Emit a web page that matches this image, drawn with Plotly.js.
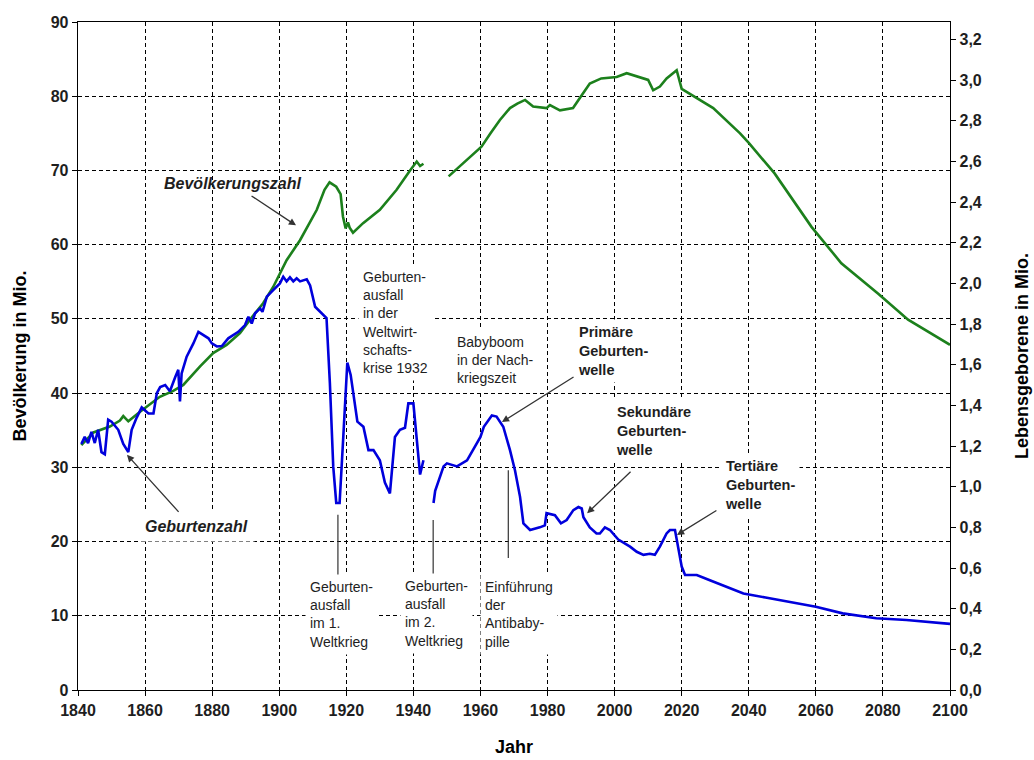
<!DOCTYPE html>
<html>
<head>
<meta charset="utf-8">
<script src="https://cdn.plot.ly/plotly-3.0.1.min.js"></script>
<style>
  html, body { margin: 0; padding: 0; background: #fff; }
  #chart { width: 1034px; height: 760px; }
</style>
</head>
<body>
<div id="chart"></div>
<script>
// ---- Data ----
// Bevölkerungszahl (population, millions, left axis); null = gap 1944-1949
const popYears = [1841, 1844.6, 1849.5, 1852.5, 1853.5, 1855, 1858.5, 1864.4, 1868.4, 1871.4,
  1876.4, 1880.3, 1884.3, 1888.3, 1891.3, 1895.2, 1898.2, 1902.2, 1906.2, 1911.2,
  1913.5, 1915, 1917, 1918.3, 1919, 1919.8, 1920.5, 1921, 1922, 1925,
  1930, 1935, 1939, 1941, 1942, 1943, 1946,
  1950.5, 1955, 1960.3, 1963, 1965.8, 1968.8, 1971, 1973.3, 1975.7, 1979.7,
  1980.7, 1983.7, 1987.6, 1990.6, 1992.6, 1996, 2000.6, 2003.6, 2007.6, 2010,
  2011.5, 2013.5, 2015.5, 2018.5, 2020, 2021.5, 2029.4, 2037.4, 2040, 2047.7,
  2058.7, 2067.6, 2078.6, 2087.5, 2100];
const popValues = [33.0, 34.7, 35.5, 36.3, 36.9, 36.2, 37.5, 39.5, 40.3, 41.1,
  43.6, 45.4, 46.5, 48.1, 49.9, 52.1, 54.3, 57.9, 60.6, 64.7,
  67.4, 68.4, 67.8, 66.8, 63.8, 62.2, 63.0, 62.3, 61.6, 62.9,
  64.7, 67.4, 70.0, 71.2, 70.6, 70.9, null,
  69.2, 71.0, 73.2, 75.0, 76.8, 78.4, 79.0, 79.5, 78.6, 78.4,
  78.8, 78.1, 78.4, 80.4, 81.7, 82.4, 82.6, 83.1, 82.6, 82.2,
  80.8, 81.3, 82.4, 83.5, 81.0, 80.6, 78.4, 75.0, 73.7, 69.6,
  62.4, 57.5, 53.4, 49.9, 46.5];

// Geburtenzahl (live births, millions, right axis); null = gap 1944-1945
const birthYears = [1841, 1842, 1843, 1844, 1845, 1846, 1847, 1848, 1849, 1850,
  1852, 1853.5, 1855, 1856, 1857.5, 1859, 1861, 1862.5, 1863.5, 1864.5,
  1866, 1867.4, 1869, 1869.9, 1870.4, 1870.9, 1872.4, 1874.4, 1875.9, 1877.4,
  1878.9, 1879.9, 1881.4, 1882.9, 1884.8, 1887.8, 1889.8, 1890.8, 1891.8, 1892.8,
  1894.3, 1895, 1896.3, 1898.2, 1900.2, 1901.2, 1902.2, 1903.2, 1904.2, 1905.2,
  1906.2, 1908.2, 1909.2, 1910.7, 1913.1, 1914.1, 1915.1, 1916.1, 1917, 1918,
  1919.1, 1920.3, 1921.3, 1923.3, 1925.1, 1926.6, 1928.1, 1930, 1931.5, 1933,
  1934.5, 1936, 1937.5, 1938.5, 1940, 1941, 1942, 1943, 1944.5,
  1946, 1946.5, 1949, 1950, 1953, 1956, 1960, 1961, 1963.4, 1964.8,
  1966.8, 1968.8, 1970.3, 1971.8, 1972.8, 1974.8, 1977.7, 1979.2, 1979.7, 1982.2,
  1984, 1985.7, 1987.7, 1989.2, 1990.2, 1990.7, 1992.6, 1994.6, 1995.6, 1997.1,
  1998.6, 2001.1, 2004.6, 2006.6, 2008.6, 2010.5, 2012, 2013.5, 2015.5, 2016.5,
  2018, 2019, 2020, 2021, 2024.5, 2028.4, 2033.4, 2038.4, 2045, 2050,
  2060, 2068, 2078, 2087, 2100];
const birthValues = [1.21, 1.245, 1.215, 1.27, 1.215, 1.28, 1.17, 1.16, 1.33, 1.32,
  1.28, 1.21, 1.17, 1.28, 1.34, 1.39, 1.36, 1.36, 1.46, 1.49,
  1.50, 1.47, 1.54, 1.575, 1.42, 1.557, 1.64, 1.705, 1.762, 1.746,
  1.73, 1.705, 1.69, 1.692, 1.73, 1.762, 1.795, 1.836, 1.803, 1.853,
  1.877, 1.86, 1.935, 1.967, 2.0, 2.033, 2.01, 2.03, 2.01, 2.025,
  2.01, 2.02, 1.99, 1.885, 1.845, 1.83, 1.51, 1.10, 0.92, 0.92,
  1.245, 1.61, 1.55, 1.32, 1.295, 1.18, 1.18, 1.13, 1.02, 0.967,
  1.245, 1.28, 1.29, 1.41, 1.41, 1.245, 1.06, 1.13, null,
  0.92, 0.98, 1.10, 1.115, 1.10, 1.13, 1.245, 1.295, 1.35, 1.345,
  1.295, 1.18, 1.08, 0.95, 0.82, 0.787, 0.80, 0.81, 0.87, 0.86,
  0.82, 0.836, 0.885, 0.90, 0.893, 0.85, 0.80, 0.77, 0.77, 0.80,
  0.787, 0.74, 0.705, 0.68, 0.665, 0.67, 0.665, 0.705, 0.77, 0.787,
  0.787, 0.705, 0.607, 0.566, 0.566, 0.54, 0.508, 0.475, 0.455, 0.44,
  0.41, 0.377, 0.353, 0.344, 0.325];

const xTicks = [1840, 1860, 1880, 1900, 1920, 1940, 1960, 1980, 2000, 2020, 2040, 2060, 2080, 2100];
const leftTicks = [0, 10, 20, 30, 40, 50, 60, 70, 80, 90];
const rightTicks = [0, 0.2, 0.4, 0.6, 0.8, 1.0, 1.2, 1.4, 1.6, 1.8, 2.0, 2.2, 2.4, 2.6, 2.8, 3.0, 3.2];

const seriesNames = ['Bevölkerungszahl', 'Geburtenzahl'];

// ---- Chart ----
const FONT = 'Arial, "Liberation Sans", sans-serif';
const TXT = '#1e1e1e';

const traces = [
  {
    x: popYears, y: popValues, name: seriesNames[0], type: 'scatter', mode: 'lines',
    line: { color: '#1c801c', width: 2.6 }, connectgaps: false, yaxis: 'y'
  },
  {
    x: birthYears, y: birthValues, name: seriesNames[1], type: 'scatter', mode: 'lines',
    line: { color: '#0000dc', width: 2.6 }, connectgaps: false, yaxis: 'y2'
  }
];

const grid = { showgrid: true, gridcolor: '#000', gridwidth: 1, griddash: '4px,3px' };
const tickFont = { family: FONT, size: 16, weight: 'bold', color: TXT };
const titleFont = { family: FONT, size: 18, weight: 'bold', color: '#000' };

function note(x, y, text, bold) {
  return {
    x: x, y: y, xref: 'x', yref: 'y', text: text, showarrow: false,
    xanchor: 'left', yanchor: 'top', align: 'left',
    bgcolor: '#ffffff', borderpad: 4,
    font: { family: FONT, size: bold ? 14.5 : 14, color: TXT, weight: bold ? 'bold' : 'normal' }
  };
}
function arrow(x, y, ax, ay) {
  return {
    x: x, y: y, ax: ax, ay: ay, xref: 'x', yref: 'y', axref: 'x', ayref: 'y',
    text: '', showarrow: true, arrowhead: 2, arrowsize: 1.1, arrowwidth: 1.3, arrowcolor: '#333'
  };
}

const layout = {
  width: 1034, height: 760,
  margin: { l: 78, r: 84, t: 22, b: 70 },
  paper_bgcolor: '#fff', plot_bgcolor: '#fff',
  separators: ',.',
  showlegend: false,
  font: { family: FONT, color: TXT },
  xaxis: Object.assign({
    range: [1840, 2100], tickvals: xTicks, ticktext: xTicks.map(String),
    showline: true, linecolor: '#000', linewidth: 1.3, mirror: true,
    ticks: 'outside', ticklen: 5, tickcolor: '#000', zeroline: false,
    tickfont: tickFont,
    title: { text: 'Jahr', font: titleFont, standoff: 23 }
  }, grid),
  yaxis: Object.assign({
    range: [0, 90], tickvals: leftTicks,
    showline: true, linecolor: '#000', linewidth: 1.3,
    ticks: 'outside', ticklen: 5, tickcolor: '#000', zeroline: false,
    tickfont: tickFont,
    title: { text: 'Bevölkerung in Mio.', font: titleFont, standoff: 19 }
  }, grid),
  yaxis2: {
    overlaying: 'y', side: 'right', range: [0, 3.286], tickvals: rightTicks, tickformat: '.1f',
    showline: true, linecolor: '#000', linewidth: 1.3, showgrid: false, zeroline: false,
    ticks: 'outside', ticklen: 5, tickcolor: '#000',
    tickfont: tickFont,
    title: { text: 'Lebensgeborene in Mio.', font: titleFont, standoff: 34 }
  },
  shapes: [
    { type: 'line', xref: 'x', yref: 'y', x0: 1917.5, x1: 1917.5, y0: 23.6, y1: 15.5, line: { color: '#333', width: 1.2 } },
    { type: 'line', xref: 'x', yref: 'y', x0: 1945.9, x1: 1945.9, y0: 22.9, y1: 15.2, line: { color: '#333', width: 1.2 } },
    { type: 'line', xref: 'x', yref: 'y', x0: 1968.3, x1: 1968.3, y0: 29.6, y1: 17.8, line: { color: '#333', width: 1.2 } }
  ],
  annotations: [
    { x: 1886.2, y: 68.3, xref: 'x', yref: 'y', text: '<b><i>Bevölkerungszahl</i></b>', showarrow: false,
      xanchor: 'center', yanchor: 'middle', font: { family: FONT, size: 16, color: TXT } },
    arrow(1905.0, 62.6, 1891.3, 66.7),
    { x: 1875.2, y: 22.0, xref: 'x', yref: 'y', text: '<b><i>Geburtenzahl</i></b>', showarrow: false,
      xanchor: 'center', yanchor: 'middle', bgcolor: '#fff', borderpad: 6,
      font: { family: FONT, size: 16, color: TXT } },
    arrow(1854.6, 31.7, 1870.4, 23.8),
    note(1923.5, 57.4, 'Geburten-<br>ausfall<br>in der<br>Weltwirt-<br>schafts-<br>krise 1932', false),
    note(1951.4, 48.6, 'Babyboom<br>in der Nach-<br>kriegszeit', false),
    note(1987.6, 50.0, 'Primäre<br>Geburten-<br>welle', true),
    arrow(1966.4, 36.1, 1988.2, 42.3),
    note(1998.9, 39.2, 'Sekundäre<br>Geburten-<br>welle', true),
    arrow(1991.8, 23.8, 2005.2, 29.6),
    note(2031.4, 31.9, 'Tertiäre<br>Geburten-<br>welle', true),
    arrow(2018.6, 20.9, 2030.8, 24.3),
    note(1907.7, 15.6, 'Geburten-<br>ausfall<br>im 1.<br>Weltkrieg', false),
    note(1936.0, 15.8, 'Geburten-<br>ausfall<br>im 2.<br>Weltkrieg', false),
    note(1959.9, 15.6, 'Einführung<br>der<br>Antibaby-<br>pille', false)
  ]
};

Plotly.newPlot('chart', traces, layout, { staticPlot: true, displayModeBar: false });
</script>
</body>
</html>
